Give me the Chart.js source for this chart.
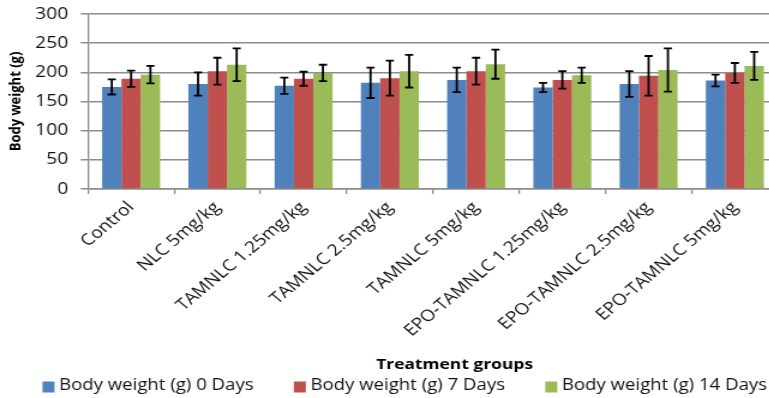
<!DOCTYPE html>
<html>
<head>
<meta charset="utf-8">
<script src="https://cdn.jsdelivr.net/npm/chart.js@4.4.1/dist/chart.umd.min.js"></script>
<style>
html, body { margin: 0; padding: 0; background: #fff; overflow: hidden; }
/* the reference picture is stretched sideways, so draw narrower and stretch the same way */
#wrap { position: relative; width: 667px; height: 398px; transform: scaleX(1.2); transform-origin: 0 0; }
</style>
</head>
<body>
<div id="wrap"><canvas id="weightChart"></canvas></div>
<script>
const groups = ['Control', 'NLC 5mg/kg', 'TAMNLC 1.25mg/kg', 'TAMNLC 2.5mg/kg', 'TAMNLC 5mg/kg',
    'EPO-TAMNLC 1.25mg/kg', 'EPO-TAMNLC 2.5mg/kg', 'EPO-TAMNLC 5mg/kg'];
const seriesNames = ['Body weight (g) 0 Days', 'Body weight (g) 7 Days', 'Body weight (g) 14 Days'];

const day0 = [175, 180, 177, 182, 187, 174, 180, 186];
const day0Err = [13, 20, 14, 26, 21, 8, 22, 10];
const day7 = [189, 202, 189, 190, 202, 187, 194, 199];
const day7Err = [14, 23, 12, 30, 23, 15, 34, 17];
const day14 = [196, 213, 199, 202, 214, 195, 204, 211];
const day14Err = [15, 28, 14, 28, 25, 13, 37, 24];

const yTicks = [0, 50, 100, 150, 200, 250, 300];
const xTitle = 'Treatment groups';
const yTitle = 'Body weight (g)';

const FONT = "'Open Sans', sans-serif";
const gridGray = '#8c8c8c';

const errorBars = {
    id: 'errorBars',
    afterDatasetsDraw(chart) {
        const ctx = chart.ctx;
        const y = chart.scales.y;
        ctx.save();
        ctx.strokeStyle = '#000';
        ctx.lineWidth = 1.8;
        chart.data.datasets.forEach((ds, i) => {
            const meta = chart.getDatasetMeta(i);
            meta.data.forEach((bar, j) => {
                const v = ds.data[j], e = ds.errors[j];
                const top = y.getPixelForValue(v + e);
                const bot = y.getPixelForValue(v - e);
                ctx.beginPath();
                ctx.moveTo(bar.x, top); ctx.lineTo(bar.x, bot);
                ctx.moveTo(bar.x - 3.4, top); ctx.lineTo(bar.x + 3.4, top);
                ctx.moveTo(bar.x - 3.4, bot); ctx.lineTo(bar.x + 3.4, bot);
                ctx.stroke();
            });
        });
        ctx.restore();
    }
};

// axis title and legend under the chart (built-in legend wraps at this width)
const bottomText = {
    id: 'bottomText',
    afterDraw(chart) {
        const ctx = chart.ctx;
        const area = chart.chartArea;
        ctx.save();
        ctx.fillStyle = '#000';
        ctx.textBaseline = 'middle';
        ctx.font = 'bold 14.5px ' + FONT;
        ctx.textAlign = 'center';
        ctx.fillText(xTitle, (area.left + area.right) / 2 + 18, area.bottom + 176);

        ctx.font = '15.5px ' + FONT;
        ctx.textAlign = 'left';
        const box = 10, boxGap = 3.8, itemGap = 33.5;
        const items = chart.data.datasets.map(ds => ({
            text: ds.label, color: ds.backgroundColor, w: ctx.measureText(ds.label).width
        }));
        const total = items.reduce((s, it) => s + box + boxGap + it.w, 0) + itemGap * (items.length - 1);
        let x = chart.width / 2 + 3.8 - total / 2;
        const y = area.bottom + 197;
        items.forEach(it => {
            ctx.fillStyle = it.color;
            ctx.fillRect(x, y - 4.5, box, 11);
            ctx.fillStyle = '#111';
            ctx.fillText(it.text, x + box + boxGap, y);
            x += box + boxGap + it.w + itemGap;
        });
        ctx.restore();
    }
};

const colors = ['#4F81BD', '#C0504D', '#9BBB59'];
const values = [day0, day7, day14];
const errs = [day0Err, day7Err, day14Err];

new Chart(document.getElementById('weightChart'), {
    type: 'bar',
    data: {
        labels: groups,
        datasets: seriesNames.map((name, i) => ({
            label: name,
            data: values[i],
            errors: errs[i],
            backgroundColor: colors[i],
            borderWidth: 0,
            barPercentage: 1.0,
            categoryPercentage: 0.672
        }))
    },
    options: {
        responsive: true,
        maintainAspectRatio: false,
        animation: false,
        layout: { padding: { left: 5.5, top: 14, right: 18.7, bottom: 0 } },
        plugins: {
            tooltip: { enabled: false },
            legend: { display: false }
        },
        scales: {
            x: {
                offset: true,
                grid: { offset: true, drawOnChartArea: false, drawTicks: true, tickLength: 5, color: gridGray, lineWidth: 1.3 },
                border: { display: true, color: gridGray, width: 1.5 },
                ticks: {
                    minRotation: 45,
                    maxRotation: 45,
                    autoSkip: false,
                    padding: 4,
                    color: '#111',
                    font: { family: FONT, size: 16 }
                },
                afterFit(scale) {
                    scale.height = scale.chart.height - 189;
                }
            },
            y: {
                min: 0,
                max: 300,
                afterBuildTicks(scale) {
                    scale.ticks = yTicks.map(v => ({ value: v }));
                },
                grid: { color: gridGray, lineWidth: 1.5, tickLength: 6 },
                border: { display: true, color: gridGray, width: 1.3 },
                ticks: {
                    padding: 10.5,
                    color: '#111',
                    font: { family: FONT, size: 16 }
                },
                title: {
                    display: true,
                    text: yTitle,
                    color: '#000',
                    padding: { top: 0, bottom: 0 },
                    font: { family: FONT, size: 13, weight: 'bold' }
                },
                afterFit(scale) {
                    scale.width = 67.8;
                    // tick padding would otherwise push the plot top down
                    scale.paddingTop = 0;
                    scale.paddingBottom = 0;
                }
            }
        }
    },
    plugins: [errorBars, bottomText]
});
</script>
</body>
</html>
